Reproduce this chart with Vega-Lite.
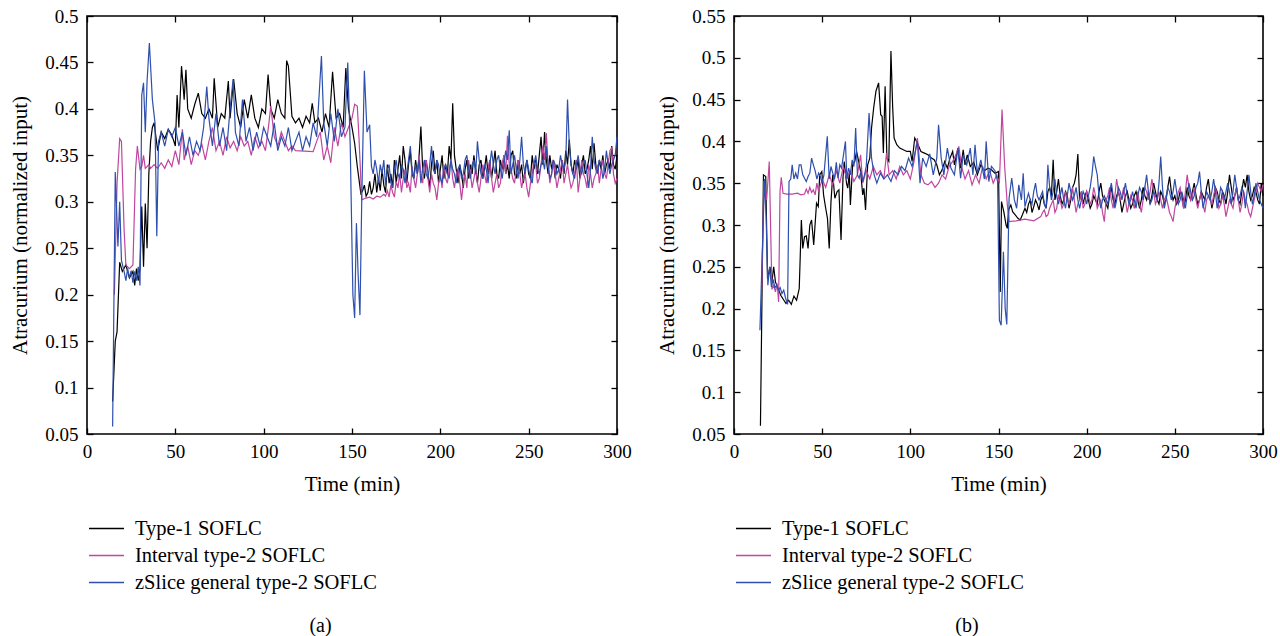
{
"$schema": "https://vega.github.io/schema/vega-lite/v6.json",
"padding": {"left": 8, "top": 6, "right": 4, "bottom": 0},
"background": "white",
"config": {
  "font": "Liberation Serif",
  "view": {"stroke": "#000", "strokeWidth": 1.6},
  "axis": {"labelFont": "Liberation Serif", "titleFont": "Liberation Serif", "labelFontSize": 19, "titleFontSize": 21, "titleFontWeight": "normal", "labelColor": "#000", "titleColor": "#000", "tickColor": "#000", "tickWidth": 1.3, "domain": false, "grid": false},
  "legend": {"labelFont": "Liberation Serif", "labelFontSize": 20.5, "labelColor": "#000", "labelLimit": 500},
  "title": {"font": "Liberation Serif", "fontSize": 20, "fontWeight": "normal", "color": "#000"}
},
"datasets": {
"a": [
{"t":14.5,"c":"T1","v":0.085},{"t":16,"c":"T1","v":0.15},{"t":17,"c":"T1","v":0.16},{"t":18.5,"c":"T1","v":0.235},{"t":20,"c":"T1","v":0.225},{"t":22,"c":"T1","v":0.232},{"t":24,"c":"T1","v":0.218},{"t":26,"c":"T1","v":0.225},{"t":27,"c":"T1","v":0.21},{"t":28,"c":"T1","v":0.228},{"t":29,"c":"T1","v":0.215},{"t":30,"c":"T1","v":0.228},{"t":31,"c":"T1","v":0.295},{"t":32,"c":"T1","v":0.23},{"t":33,"c":"T1","v":0.298},{"t":34,"c":"T1","v":0.25},{"t":35,"c":"T1","v":0.33},{"t":36,"c":"T1","v":0.365},{"t":37,"c":"T1","v":0.38},{"t":38,"c":"T1","v":0.385},{"t":40,"c":"T1","v":0.355},{"t":42,"c":"T1","v":0.375},{"t":44,"c":"T1","v":0.368},{"t":46,"c":"T1","v":0.378},{"t":48,"c":"T1","v":0.372},{"t":50,"c":"T1","v":0.36},{"t":51,"c":"T1","v":0.415},{"t":52,"c":"T1","v":0.38},{"t":53.5,"c":"T1","v":0.446},{"t":55,"c":"T1","v":0.41},{"t":56,"c":"T1","v":0.442},{"t":57,"c":"T1","v":0.4},{"t":59,"c":"T1","v":0.39},{"t":61,"c":"T1","v":0.405},{"t":63,"c":"T1","v":0.417},{"t":65,"c":"T1","v":0.395},{"t":67,"c":"T1","v":0.39},{"t":69,"c":"T1","v":0.4},{"t":71,"c":"T1","v":0.39},{"t":72,"c":"T1","v":0.433},{"t":74,"c":"T1","v":0.38},{"t":76,"c":"T1","v":0.395},{"t":78,"c":"T1","v":0.39},{"t":80,"c":"T1","v":0.43},{"t":81,"c":"T1","v":0.39},{"t":83,"c":"T1","v":0.432},{"t":85,"c":"T1","v":0.395},{"t":87,"c":"T1","v":0.38},{"t":89,"c":"T1","v":0.41},{"t":91,"c":"T1","v":0.39},{"t":93,"c":"T1","v":0.415},{"t":95,"c":"T1","v":0.39},{"t":97,"c":"T1","v":0.38},{"t":99,"c":"T1","v":0.4},{"t":101,"c":"T1","v":0.395},{"t":102.5,"c":"T1","v":0.437},{"t":104,"c":"T1","v":0.4},{"t":106,"c":"T1","v":0.39},{"t":108,"c":"T1","v":0.41},{"t":110,"c":"T1","v":0.395},{"t":112,"c":"T1","v":0.39},{"t":113,"c":"T1","v":0.452},{"t":114,"c":"T1","v":0.446},{"t":116,"c":"T1","v":0.392},{"t":118,"c":"T1","v":0.385},{"t":120,"c":"T1","v":0.39},{"t":122,"c":"T1","v":0.38},{"t":124,"c":"T1","v":0.392},{"t":126,"c":"T1","v":0.385},{"t":127.5,"c":"T1","v":0.406},{"t":129,"c":"T1","v":0.385},{"t":131,"c":"T1","v":0.39},{"t":133,"c":"T1","v":0.375},{"t":135,"c":"T1","v":0.395},{"t":137,"c":"T1","v":0.38},{"t":139,"c":"T1","v":0.44},{"t":141,"c":"T1","v":0.39},{"t":143,"c":"T1","v":0.395},{"t":145,"c":"T1","v":0.38},{"t":146.5,"c":"T1","v":0.444},{"t":148,"c":"T1","v":0.4},{"t":150,"c":"T1","v":0.38},{"t":151.5,"c":"T1","v":0.363},{"t":153,"c":"T1","v":0.338},{"t":155,"c":"T1","v":0.309},
{"t":156,"c":"T1","v":0.312},{"t":157,"c":"T1","v":0.318},{"t":158,"c":"T1","v":0.306},{"t":159,"c":"T1","v":0.31},{"t":160,"c":"T1","v":0.322},{"t":161,"c":"T1","v":0.308},{"t":162,"c":"T1","v":0.315},{"t":163,"c":"T1","v":0.33},{"t":164,"c":"T1","v":0.31},{"t":165,"c":"T1","v":0.325},{"t":166,"c":"T1","v":0.312},{"t":167,"c":"T1","v":0.335},{"t":168,"c":"T1","v":0.318},{"t":169,"c":"T1","v":0.31},{"t":170,"c":"T1","v":0.34},{"t":171,"c":"T1","v":0.32},{"t":172,"c":"T1","v":0.33},{"t":173,"c":"T1","v":0.315},{"t":174,"c":"T1","v":0.345},{"t":175,"c":"T1","v":0.32},{"t":176,"c":"T1","v":0.335},{"t":177,"c":"T1","v":0.35},{"t":178,"c":"T1","v":0.325},{"t":179,"c":"T1","v":0.36},{"t":180,"c":"T1","v":0.345},{"t":181,"c":"T1","v":0.32},{"t":182,"c":"T1","v":0.34},{"t":183,"c":"T1","v":0.355},{"t":184,"c":"T1","v":0.33},{"t":185,"c":"T1","v":0.325},{"t":186,"c":"T1","v":0.345},{"t":187,"c":"T1","v":0.33},{"t":188,"c":"T1","v":0.35},{"t":189,"c":"T1","v":0.381},{"t":190,"c":"T1","v":0.335},{"t":191,"c":"T1","v":0.325},{"t":192,"c":"T1","v":0.345},{"t":193,"c":"T1","v":0.33},{"t":194,"c":"T1","v":0.315},{"t":195,"c":"T1","v":0.34},{"t":196,"c":"T1","v":0.355},{"t":197,"c":"T1","v":0.33},{"t":198,"c":"T1","v":0.345},{"t":199,"c":"T1","v":0.32},{"t":200,"c":"T1","v":0.335},{"t":201,"c":"T1","v":0.35},{"t":202,"c":"T1","v":0.325},{"t":203,"c":"T1","v":0.34},{"t":204,"c":"T1","v":0.33},{"t":205,"c":"T1","v":0.36},{"t":206,"c":"T1","v":0.345},{"t":207,"c":"T1","v":0.406},{"t":208,"c":"T1","v":0.35},{"t":209,"c":"T1","v":0.335},{"t":210,"c":"T1","v":0.32},{"t":211,"c":"T1","v":0.34},{"t":212,"c":"T1","v":0.33},{"t":213,"c":"T1","v":0.315},{"t":214,"c":"T1","v":0.335},{"t":215,"c":"T1","v":0.345},{"t":216,"c":"T1","v":0.325},{"t":217,"c":"T1","v":0.34},{"t":218,"c":"T1","v":0.33},{"t":219,"c":"T1","v":0.35},{"t":220,"c":"T1","v":0.335},{"t":221,"c":"T1","v":0.32},{"t":222,"c":"T1","v":0.34},{"t":223,"c":"T1","v":0.345},{"t":224,"c":"T1","v":0.325},{"t":225,"c":"T1","v":0.335},{"t":226,"c":"T1","v":0.35},{"t":227,"c":"T1","v":0.33},{"t":228,"c":"T1","v":0.345},{"t":229,"c":"T1","v":0.325},{"t":230,"c":"T1","v":0.34},{"t":231,"c":"T1","v":0.355},{"t":232,"c":"T1","v":0.33},{"t":233,"c":"T1","v":0.325},{"t":234,"c":"T1","v":0.345},{"t":235,"c":"T1","v":0.335},{"t":236,"c":"T1","v":0.35},{"t":237,"c":"T1","v":0.33},{"t":238,"c":"T1","v":0.34},{"t":239,"c":"T1","v":0.325},{"t":240,"c":"T1","v":0.35},{"t":241,"c":"T1","v":0.355},{"t":242,"c":"T1","v":0.33},{"t":243,"c":"T1","v":0.325},{"t":244,"c":"T1","v":0.345},{"t":245,"c":"T1","v":0.33},{"t":246,"c":"T1","v":0.34},{"t":247,"c":"T1","v":0.32},{"t":248,"c":"T1","v":0.335},{"t":249,"c":"T1","v":0.345},{"t":250,"c":"T1","v":0.33},{"t":251,"c":"T1","v":0.325},{"t":252,"c":"T1","v":0.35},{"t":253,"c":"T1","v":0.335},{"t":254,"c":"T1","v":0.345},{"t":255,"c":"T1","v":0.33},{"t":256,"c":"T1","v":0.35},{"t":257,"c":"T1","v":0.37},{"t":258,"c":"T1","v":0.34},{"t":259,"c":"T1","v":0.375},{"t":260,"c":"T1","v":0.345},{"t":261,"c":"T1","v":0.33},{"t":262,"c":"T1","v":0.35},{"t":263,"c":"T1","v":0.335},{"t":264,"c":"T1","v":0.345},{"t":265,"c":"T1","v":0.325},{"t":266,"c":"T1","v":0.34},{"t":267,"c":"T1","v":0.335},{"t":268,"c":"T1","v":0.325},{"t":269,"c":"T1","v":0.345},{"t":270,"c":"T1","v":0.33},{"t":271,"c":"T1","v":0.355},{"t":272,"c":"T1","v":0.34},{"t":273,"c":"T1","v":0.367},{"t":274,"c":"T1","v":0.34},{"t":275,"c":"T1","v":0.33},{"t":276,"c":"T1","v":0.345},{"t":277,"c":"T1","v":0.335},{"t":278,"c":"T1","v":0.345},{"t":279,"c":"T1","v":0.325},{"t":280,"c":"T1","v":0.34},{"t":281,"c":"T1","v":0.35},{"t":282,"c":"T1","v":0.33},{"t":283,"c":"T1","v":0.335},{"t":284,"c":"T1","v":0.345},{"t":285,"c":"T1","v":0.36},{"t":286,"c":"T1","v":0.335},{"t":287,"c":"T1","v":0.363},{"t":288,"c":"T1","v":0.34},{"t":289,"c":"T1","v":0.33},{"t":290,"c":"T1","v":0.345},{"t":291,"c":"T1","v":0.335},{"t":292,"c":"T1","v":0.35},{"t":293,"c":"T1","v":0.33},{"t":294,"c":"T1","v":0.34},{"t":295,"c":"T1","v":0.345},{"t":296,"c":"T1","v":0.335},{"t":297,"c":"T1","v":0.36},{"t":298,"c":"T1","v":0.34},{"t":299,"c":"T1","v":0.335},{"t":300,"c":"T1","v":0.35},
{"t":15.5,"c":"IT2","v":0.2},{"t":17,"c":"IT2","v":0.32},{"t":18.5,"c":"IT2","v":0.368},{"t":19.5,"c":"IT2","v":0.365},{"t":21,"c":"IT2","v":0.27},{"t":22,"c":"IT2","v":0.232},{"t":24,"c":"IT2","v":0.228},{"t":26,"c":"IT2","v":0.232},{"t":27.5,"c":"IT2","v":0.335},{"t":28.5,"c":"IT2","v":0.36},{"t":30,"c":"IT2","v":0.335},{"t":31,"c":"IT2","v":0.338},{"t":32,"c":"IT2","v":0.35},{"t":33,"c":"IT2","v":0.336},{"t":35,"c":"IT2","v":0.34},{"t":36,"c":"IT2","v":0.336},{"t":38,"c":"IT2","v":0.34},{"t":40,"c":"IT2","v":0.336},{"t":42,"c":"IT2","v":0.342},{"t":44,"c":"IT2","v":0.336},{"t":46,"c":"IT2","v":0.345},{"t":48,"c":"IT2","v":0.338},{"t":50,"c":"IT2","v":0.355},{"t":52,"c":"IT2","v":0.34},{"t":54,"c":"IT2","v":0.378},{"t":55,"c":"IT2","v":0.345},{"t":57,"c":"IT2","v":0.36},{"t":59,"c":"IT2","v":0.34},{"t":61,"c":"IT2","v":0.355},{"t":63,"c":"IT2","v":0.35},{"t":65,"c":"IT2","v":0.362},{"t":67,"c":"IT2","v":0.345},{"t":69,"c":"IT2","v":0.365},{"t":71,"c":"IT2","v":0.38},{"t":73,"c":"IT2","v":0.355},{"t":75,"c":"IT2","v":0.365},{"t":77,"c":"IT2","v":0.35},{"t":79,"c":"IT2","v":0.37},{"t":81,"c":"IT2","v":0.358},{"t":83,"c":"IT2","v":0.365},{"t":85,"c":"IT2","v":0.355},{"t":87,"c":"IT2","v":0.37},{"t":89,"c":"IT2","v":0.36},{"t":91,"c":"IT2","v":0.365},{"t":93,"c":"IT2","v":0.35},{"t":95,"c":"IT2","v":0.37},{"t":97,"c":"IT2","v":0.358},{"t":99,"c":"IT2","v":0.365},{"t":101,"c":"IT2","v":0.355},{"t":103,"c":"IT2","v":0.385},{"t":104,"c":"IT2","v":0.403},{"t":106,"c":"IT2","v":0.37},{"t":108,"c":"IT2","v":0.36},{"t":110,"c":"IT2","v":0.375},{"t":112,"c":"IT2","v":0.365},{"t":114,"c":"IT2","v":0.355},{"t":116,"c":"IT2","v":0.36},{"t":118,"c":"IT2","v":0.355},{"t":128,"c":"IT2","v":0.354},{"t":130,"c":"IT2","v":0.365},{"t":132,"c":"IT2","v":0.375},{"t":134,"c":"IT2","v":0.345},{"t":136,"c":"IT2","v":0.36},{"t":138,"c":"IT2","v":0.342},{"t":140,"c":"IT2","v":0.38},{"t":142,"c":"IT2","v":0.36},{"t":144,"c":"IT2","v":0.385},{"t":146,"c":"IT2","v":0.37},{"t":148,"c":"IT2","v":0.38},{"t":150,"c":"IT2","v":0.39},{"t":151.5,"c":"IT2","v":0.405},{"t":153,"c":"IT2","v":0.403},{"t":154,"c":"IT2","v":0.367},{"t":155.5,"c":"IT2","v":0.302},
{"t":158,"c":"IT2","v":0.304},{"t":160,"c":"IT2","v":0.305},{"t":162,"c":"IT2","v":0.303},{"t":164,"c":"IT2","v":0.306},{"t":166,"c":"IT2","v":0.305},{"t":168,"c":"IT2","v":0.308},{"t":169,"c":"IT2","v":0.306},{"t":170,"c":"IT2","v":0.312},{"t":171,"c":"IT2","v":0.305},{"t":172,"c":"IT2","v":0.318},{"t":173,"c":"IT2","v":0.31},{"t":174,"c":"IT2","v":0.305},{"t":175,"c":"IT2","v":0.322},{"t":176,"c":"IT2","v":0.315},{"t":177,"c":"IT2","v":0.33},{"t":178,"c":"IT2","v":0.31},{"t":179,"c":"IT2","v":0.325},{"t":180,"c":"IT2","v":0.335},{"t":181,"c":"IT2","v":0.315},{"t":182,"c":"IT2","v":0.32},{"t":183,"c":"IT2","v":0.31},{"t":184,"c":"IT2","v":0.338},{"t":185,"c":"IT2","v":0.325},{"t":186,"c":"IT2","v":0.315},{"t":187,"c":"IT2","v":0.33},{"t":188,"c":"IT2","v":0.35},{"t":189,"c":"IT2","v":0.33},{"t":190,"c":"IT2","v":0.32},{"t":191,"c":"IT2","v":0.34},{"t":192,"c":"IT2","v":0.345},{"t":193,"c":"IT2","v":0.325},{"t":194,"c":"IT2","v":0.31},{"t":195,"c":"IT2","v":0.33},{"t":196,"c":"IT2","v":0.32},{"t":197,"c":"IT2","v":0.315},{"t":198,"c":"IT2","v":0.302},{"t":199,"c":"IT2","v":0.32},{"t":200,"c":"IT2","v":0.33},{"t":201,"c":"IT2","v":0.315},{"t":202,"c":"IT2","v":0.34},{"t":203,"c":"IT2","v":0.325},{"t":204,"c":"IT2","v":0.32},{"t":205,"c":"IT2","v":0.335},{"t":206,"c":"IT2","v":0.345},{"t":207,"c":"IT2","v":0.325},{"t":208,"c":"IT2","v":0.315},{"t":209,"c":"IT2","v":0.33},{"t":210,"c":"IT2","v":0.335},{"t":211,"c":"IT2","v":0.32},{"t":212,"c":"IT2","v":0.302},{"t":213,"c":"IT2","v":0.32},{"t":214,"c":"IT2","v":0.33},{"t":215,"c":"IT2","v":0.315},{"t":216,"c":"IT2","v":0.345},{"t":217,"c":"IT2","v":0.33},{"t":218,"c":"IT2","v":0.315},{"t":219,"c":"IT2","v":0.325},{"t":220,"c":"IT2","v":0.335},{"t":221,"c":"IT2","v":0.32},{"t":222,"c":"IT2","v":0.31},{"t":223,"c":"IT2","v":0.325},{"t":224,"c":"IT2","v":0.34},{"t":225,"c":"IT2","v":0.33},{"t":226,"c":"IT2","v":0.32},{"t":227,"c":"IT2","v":0.335},{"t":228,"c":"IT2","v":0.345},{"t":229,"c":"IT2","v":0.325},{"t":230,"c":"IT2","v":0.31},{"t":231,"c":"IT2","v":0.32},{"t":232,"c":"IT2","v":0.33},{"t":233,"c":"IT2","v":0.315},{"t":234,"c":"IT2","v":0.32},{"t":235,"c":"IT2","v":0.34},{"t":236,"c":"IT2","v":0.35},{"t":237,"c":"IT2","v":0.33},{"t":238,"c":"IT2","v":0.371},{"t":239,"c":"IT2","v":0.34},{"t":240,"c":"IT2","v":0.335},{"t":241,"c":"IT2","v":0.325},{"t":242,"c":"IT2","v":0.32},{"t":243,"c":"IT2","v":0.335},{"t":244,"c":"IT2","v":0.345},{"t":245,"c":"IT2","v":0.33},{"t":246,"c":"IT2","v":0.315},{"t":247,"c":"IT2","v":0.325},{"t":248,"c":"IT2","v":0.33},{"t":249,"c":"IT2","v":0.315},{"t":250,"c":"IT2","v":0.305},{"t":251,"c":"IT2","v":0.32},{"t":252,"c":"IT2","v":0.33},{"t":253,"c":"IT2","v":0.345},{"t":254,"c":"IT2","v":0.34},{"t":255,"c":"IT2","v":0.32},{"t":256,"c":"IT2","v":0.325},{"t":257,"c":"IT2","v":0.34},{"t":258,"c":"IT2","v":0.36},{"t":259,"c":"IT2","v":0.345},{"t":260,"c":"IT2","v":0.374},{"t":261,"c":"IT2","v":0.34},{"t":262,"c":"IT2","v":0.32},{"t":263,"c":"IT2","v":0.33},{"t":264,"c":"IT2","v":0.345},{"t":265,"c":"IT2","v":0.33},{"t":266,"c":"IT2","v":0.315},{"t":267,"c":"IT2","v":0.325},{"t":268,"c":"IT2","v":0.335},{"t":269,"c":"IT2","v":0.345},{"t":270,"c":"IT2","v":0.32},{"t":271,"c":"IT2","v":0.33},{"t":272,"c":"IT2","v":0.34},{"t":273,"c":"IT2","v":0.325},{"t":274,"c":"IT2","v":0.315},{"t":275,"c":"IT2","v":0.32},{"t":276,"c":"IT2","v":0.33},{"t":277,"c":"IT2","v":0.345},{"t":278,"c":"IT2","v":0.31},{"t":279,"c":"IT2","v":0.325},{"t":280,"c":"IT2","v":0.345},{"t":281,"c":"IT2","v":0.33},{"t":282,"c":"IT2","v":0.325},{"t":283,"c":"IT2","v":0.315},{"t":284,"c":"IT2","v":0.34},{"t":285,"c":"IT2","v":0.33},{"t":286,"c":"IT2","v":0.315},{"t":287,"c":"IT2","v":0.325},{"t":288,"c":"IT2","v":0.33},{"t":289,"c":"IT2","v":0.34},{"t":290,"c":"IT2","v":0.32},{"t":291,"c":"IT2","v":0.335},{"t":292,"c":"IT2","v":0.345},{"t":293,"c":"IT2","v":0.33},{"t":294,"c":"IT2","v":0.325},{"t":295,"c":"IT2","v":0.34},{"t":296,"c":"IT2","v":0.355},{"t":297,"c":"IT2","v":0.358},{"t":298,"c":"IT2","v":0.33},{"t":299,"c":"IT2","v":0.32},{"t":300,"c":"IT2","v":0.325},
{"t":14.5,"c":"GT2","v":0.058},{"t":16,"c":"GT2","v":0.332},{"t":17.5,"c":"GT2","v":0.252},{"t":18.5,"c":"GT2","v":0.3},{"t":19.5,"c":"GT2","v":0.237},{"t":21,"c":"GT2","v":0.225},{"t":22,"c":"GT2","v":0.215},{"t":23,"c":"GT2","v":0.228},{"t":24,"c":"GT2","v":0.218},{"t":25,"c":"GT2","v":0.226},{"t":26,"c":"GT2","v":0.213},{"t":27,"c":"GT2","v":0.225},{"t":28,"c":"GT2","v":0.215},{"t":29,"c":"GT2","v":0.23},{"t":30,"c":"GT2","v":0.21},{"t":31,"c":"GT2","v":0.415},{"t":32,"c":"GT2","v":0.428},{"t":33,"c":"GT2","v":0.375},{"t":34,"c":"GT2","v":0.43},{"t":35.3,"c":"GT2","v":0.471},{"t":37,"c":"GT2","v":0.41},{"t":38.5,"c":"GT2","v":0.385},{"t":39.5,"c":"GT2","v":0.263},{"t":40.5,"c":"GT2","v":0.365},{"t":42,"c":"GT2","v":0.375},{"t":44,"c":"GT2","v":0.36},{"t":46,"c":"GT2","v":0.378},{"t":48,"c":"GT2","v":0.37},{"t":50,"c":"GT2","v":0.38},{"t":52,"c":"GT2","v":0.36},{"t":54,"c":"GT2","v":0.375},{"t":56,"c":"GT2","v":0.35},{"t":58,"c":"GT2","v":0.37},{"t":60,"c":"GT2","v":0.35},{"t":62,"c":"GT2","v":0.365},{"t":64,"c":"GT2","v":0.355},{"t":66,"c":"GT2","v":0.38},{"t":67.8,"c":"GT2","v":0.424},{"t":69,"c":"GT2","v":0.39},{"t":71,"c":"GT2","v":0.36},{"t":73,"c":"GT2","v":0.395},{"t":75,"c":"GT2","v":0.36},{"t":77,"c":"GT2","v":0.38},{"t":79,"c":"GT2","v":0.355},{"t":81,"c":"GT2","v":0.4},{"t":82.7,"c":"GT2","v":0.432},{"t":84,"c":"GT2","v":0.375},{"t":86,"c":"GT2","v":0.36},{"t":88,"c":"GT2","v":0.41},{"t":90,"c":"GT2","v":0.365},{"t":92,"c":"GT2","v":0.38},{"t":94,"c":"GT2","v":0.355},{"t":96,"c":"GT2","v":0.375},{"t":98,"c":"GT2","v":0.36},{"t":100,"c":"GT2","v":0.38},{"t":102,"c":"GT2","v":0.37},{"t":104,"c":"GT2","v":0.36},{"t":106,"c":"GT2","v":0.385},{"t":108,"c":"GT2","v":0.355},{"t":110,"c":"GT2","v":0.37},{"t":112,"c":"GT2","v":0.36},{"t":114,"c":"GT2","v":0.38},{"t":116,"c":"GT2","v":0.355},{"t":118,"c":"GT2","v":0.365},{"t":120,"c":"GT2","v":0.375},{"t":122,"c":"GT2","v":0.355},{"t":124,"c":"GT2","v":0.37},{"t":126,"c":"GT2","v":0.36},{"t":128,"c":"GT2","v":0.385},{"t":130,"c":"GT2","v":0.37},{"t":132.7,"c":"GT2","v":0.457},{"t":134,"c":"GT2","v":0.385},{"t":136,"c":"GT2","v":0.36},{"t":138,"c":"GT2","v":0.395},{"t":140,"c":"GT2","v":0.365},{"t":142,"c":"GT2","v":0.4},{"t":144,"c":"GT2","v":0.37},{"t":146,"c":"GT2","v":0.38},{"t":147.6,"c":"GT2","v":0.45},{"t":149,"c":"GT2","v":0.36},{"t":150.5,"c":"GT2","v":0.2},{"t":151.5,"c":"GT2","v":0.175},{"t":152.5,"c":"GT2","v":0.277},{"t":153.5,"c":"GT2","v":0.22},{"t":154.5,"c":"GT2","v":0.178},{"t":155.5,"c":"GT2","v":0.3},{"t":157,"c":"GT2","v":0.441},{"t":158.5,"c":"GT2","v":0.375},{"t":160,"c":"GT2","v":0.383},
{"t":161,"c":"GT2","v":0.338},{"t":162,"c":"GT2","v":0.33},{"t":163,"c":"GT2","v":0.345},{"t":164,"c":"GT2","v":0.335},{"t":165,"c":"GT2","v":0.32},{"t":166,"c":"GT2","v":0.34},{"t":167,"c":"GT2","v":0.33},{"t":168,"c":"GT2","v":0.345},{"t":169,"c":"GT2","v":0.318},{"t":170,"c":"GT2","v":0.335},{"t":171,"c":"GT2","v":0.34},{"t":172,"c":"GT2","v":0.32},{"t":173,"c":"GT2","v":0.315},{"t":174,"c":"GT2","v":0.335},{"t":175,"c":"GT2","v":0.345},{"t":176,"c":"GT2","v":0.33},{"t":177,"c":"GT2","v":0.325},{"t":178,"c":"GT2","v":0.34},{"t":179,"c":"GT2","v":0.335},{"t":180,"c":"GT2","v":0.32},{"t":181,"c":"GT2","v":0.33},{"t":182,"c":"GT2","v":0.345},{"t":183,"c":"GT2","v":0.36},{"t":184,"c":"GT2","v":0.335},{"t":185,"c":"GT2","v":0.325},{"t":186,"c":"GT2","v":0.34},{"t":187,"c":"GT2","v":0.33},{"t":188,"c":"GT2","v":0.345},{"t":189,"c":"GT2","v":0.32},{"t":190,"c":"GT2","v":0.335},{"t":191,"c":"GT2","v":0.345},{"t":192,"c":"GT2","v":0.33},{"t":193,"c":"GT2","v":0.325},{"t":194,"c":"GT2","v":0.34},{"t":195,"c":"GT2","v":0.36},{"t":196,"c":"GT2","v":0.335},{"t":197,"c":"GT2","v":0.33},{"t":198,"c":"GT2","v":0.345},{"t":199,"c":"GT2","v":0.34},{"t":200,"c":"GT2","v":0.325},{"t":201,"c":"GT2","v":0.32},{"t":202,"c":"GT2","v":0.335},{"t":203,"c":"GT2","v":0.34},{"t":204,"c":"GT2","v":0.33},{"t":205,"c":"GT2","v":0.325},{"t":206,"c":"GT2","v":0.345},{"t":207,"c":"GT2","v":0.335},{"t":208,"c":"GT2","v":0.33},{"t":209,"c":"GT2","v":0.32},{"t":210,"c":"GT2","v":0.335},{"t":211,"c":"GT2","v":0.34},{"t":212,"c":"GT2","v":0.325},{"t":213,"c":"GT2","v":0.33},{"t":214,"c":"GT2","v":0.345},{"t":215,"c":"GT2","v":0.35},{"t":216,"c":"GT2","v":0.335},{"t":217,"c":"GT2","v":0.325},{"t":218,"c":"GT2","v":0.34},{"t":219,"c":"GT2","v":0.345},{"t":220,"c":"GT2","v":0.33},{"t":221,"c":"GT2","v":0.365},{"t":222,"c":"GT2","v":0.345},{"t":223,"c":"GT2","v":0.33},{"t":224,"c":"GT2","v":0.325},{"t":225,"c":"GT2","v":0.34},{"t":226,"c":"GT2","v":0.335},{"t":227,"c":"GT2","v":0.32},{"t":228,"c":"GT2","v":0.34},{"t":229,"c":"GT2","v":0.355},{"t":230,"c":"GT2","v":0.34},{"t":231,"c":"GT2","v":0.33},{"t":232,"c":"GT2","v":0.345},{"t":233,"c":"GT2","v":0.35},{"t":234,"c":"GT2","v":0.335},{"t":235,"c":"GT2","v":0.325},{"t":236,"c":"GT2","v":0.34},{"t":237,"c":"GT2","v":0.355},{"t":238,"c":"GT2","v":0.345},{"t":239,"c":"GT2","v":0.377},{"t":240,"c":"GT2","v":0.33},{"t":241,"c":"GT2","v":0.34},{"t":242,"c":"GT2","v":0.35},{"t":243,"c":"GT2","v":0.335},{"t":244,"c":"GT2","v":0.325},{"t":245,"c":"GT2","v":0.345},{"t":246,"c":"GT2","v":0.37},{"t":247,"c":"GT2","v":0.34},{"t":248,"c":"GT2","v":0.33},{"t":249,"c":"GT2","v":0.345},{"t":250,"c":"GT2","v":0.335},{"t":251,"c":"GT2","v":0.325},{"t":252,"c":"GT2","v":0.32},{"t":253,"c":"GT2","v":0.34},{"t":254,"c":"GT2","v":0.35},{"t":255,"c":"GT2","v":0.335},{"t":256,"c":"GT2","v":0.33},{"t":257,"c":"GT2","v":0.34},{"t":258,"c":"GT2","v":0.345},{"t":259,"c":"GT2","v":0.335},{"t":260,"c":"GT2","v":0.36},{"t":261,"c":"GT2","v":0.34},{"t":262,"c":"GT2","v":0.325},{"t":263,"c":"GT2","v":0.33},{"t":264,"c":"GT2","v":0.345},{"t":265,"c":"GT2","v":0.34},{"t":266,"c":"GT2","v":0.33},{"t":267,"c":"GT2","v":0.335},{"t":268,"c":"GT2","v":0.35},{"t":269,"c":"GT2","v":0.34},{"t":270,"c":"GT2","v":0.335},{"t":271,"c":"GT2","v":0.345},{"t":272,"c":"GT2","v":0.41},{"t":273,"c":"GT2","v":0.36},{"t":274,"c":"GT2","v":0.34},{"t":275,"c":"GT2","v":0.33},{"t":276,"c":"GT2","v":0.325},{"t":277,"c":"GT2","v":0.34},{"t":278,"c":"GT2","v":0.35},{"t":279,"c":"GT2","v":0.335},{"t":280,"c":"GT2","v":0.33},{"t":281,"c":"GT2","v":0.34},{"t":282,"c":"GT2","v":0.345},{"t":283,"c":"GT2","v":0.33},{"t":284,"c":"GT2","v":0.315},{"t":285,"c":"GT2","v":0.335},{"t":286,"c":"GT2","v":0.37},{"t":287,"c":"GT2","v":0.345},{"t":288,"c":"GT2","v":0.335},{"t":289,"c":"GT2","v":0.33},{"t":290,"c":"GT2","v":0.345},{"t":291,"c":"GT2","v":0.34},{"t":292,"c":"GT2","v":0.325},{"t":293,"c":"GT2","v":0.335},{"t":294,"c":"GT2","v":0.355},{"t":295,"c":"GT2","v":0.34},{"t":296,"c":"GT2","v":0.33},{"t":297,"c":"GT2","v":0.34},{"t":298,"c":"GT2","v":0.345},{"t":299,"c":"GT2","v":0.35},{"t":300,"c":"GT2","v":0.37}
],
"b": [
{"t":15,"c":"T1","v":0.06},{"t":16.7,"c":"T1","v":0.36},{"t":18,"c":"T1","v":0.358},{"t":19,"c":"T1","v":0.236},{"t":20.4,"c":"T1","v":0.25},{"t":21.5,"c":"T1","v":0.232},{"t":22.5,"c":"T1","v":0.25},{"t":23.5,"c":"T1","v":0.232},{"t":25,"c":"T1","v":0.224},{"t":26.5,"c":"T1","v":0.216},{"t":28.3,"c":"T1","v":0.21},{"t":29.5,"c":"T1","v":0.206},{"t":31,"c":"T1","v":0.21},{"t":32.5,"c":"T1","v":0.205},{"t":34,"c":"T1","v":0.215},{"t":35.5,"c":"T1","v":0.21},{"t":37,"c":"T1","v":0.224},{"t":38.2,"c":"T1","v":0.306},{"t":39,"c":"T1","v":0.272},{"t":40,"c":"T1","v":0.286},{"t":41,"c":"T1","v":0.287},{"t":42,"c":"T1","v":0.272},{"t":43,"c":"T1","v":0.3},{"t":44,"c":"T1","v":0.306},{"t":45.2,"c":"T1","v":0.276},{"t":46.8,"c":"T1","v":0.326},{"t":47.8,"c":"T1","v":0.322},{"t":48.6,"c":"T1","v":0.36},{"t":49.8,"c":"T1","v":0.364},{"t":50.8,"c":"T1","v":0.336},{"t":52,"c":"T1","v":0.32},{"t":53,"c":"T1","v":0.308},{"t":54,"c":"T1","v":0.272},{"t":55,"c":"T1","v":0.328},{"t":56,"c":"T1","v":0.36},{"t":57.2,"c":"T1","v":0.332},{"t":58.5,"c":"T1","v":0.34},{"t":59.5,"c":"T1","v":0.342},{"t":60.7,"c":"T1","v":0.282},{"t":61.8,"c":"T1","v":0.356},{"t":62.5,"c":"T1","v":0.376},{"t":63.8,"c":"T1","v":0.35},{"t":64.5,"c":"T1","v":0.344},{"t":65.4,"c":"T1","v":0.362},{"t":66,"c":"T1","v":0.324},{"t":67.3,"c":"T1","v":0.372},{"t":68.5,"c":"T1","v":0.376},{"t":69.5,"c":"T1","v":0.388},{"t":70.7,"c":"T1","v":0.376},{"t":71.8,"c":"T1","v":0.364},{"t":73,"c":"T1","v":0.336},{"t":73.7,"c":"T1","v":0.344},{"t":74.6,"c":"T1","v":0.318},{"t":75.8,"c":"T1","v":0.372},{"t":77,"c":"T1","v":0.38},{"t":78,"c":"T1","v":0.416},{"t":79.2,"c":"T1","v":0.44},{"t":80.5,"c":"T1","v":0.46},{"t":82,"c":"T1","v":0.47},{"t":83.2,"c":"T1","v":0.432},{"t":84,"c":"T1","v":0.43},{"t":84.7,"c":"T1","v":0.386},{"t":85.7,"c":"T1","v":0.466},{"t":86.7,"c":"T1","v":0.38},{"t":87.8,"c":"T1","v":0.376},{"t":89,"c":"T1","v":0.508},{"t":90,"c":"T1","v":0.44},{"t":90.8,"c":"T1","v":0.404},{"t":92.3,"c":"T1","v":0.396},{"t":94,"c":"T1","v":0.392},{"t":96,"c":"T1","v":0.39},{"t":98,"c":"T1","v":0.388},{"t":100,"c":"T1","v":0.388},{"t":101,"c":"T1","v":0.376},{"t":102.5,"c":"T1","v":0.404},{"t":104,"c":"T1","v":0.398},{"t":106,"c":"T1","v":0.388},{"t":108,"c":"T1","v":0.386},{"t":110,"c":"T1","v":0.384},{"t":112,"c":"T1","v":0.38},{"t":113.5,"c":"T1","v":0.378},{"t":115,"c":"T1","v":0.372},{"t":116.5,"c":"T1","v":0.36},{"t":118,"c":"T1","v":0.366},{"t":119.5,"c":"T1","v":0.376},{"t":121,"c":"T1","v":0.368},{"t":122.5,"c":"T1","v":0.38},{"t":124,"c":"T1","v":0.388},{"t":125,"c":"T1","v":0.372},{"t":127,"c":"T1","v":0.392},{"t":128.5,"c":"T1","v":0.368},{"t":130,"c":"T1","v":0.39},{"t":131,"c":"T1","v":0.372},{"t":132.3,"c":"T1","v":0.384},{"t":134,"c":"T1","v":0.37},{"t":136,"c":"T1","v":0.375},{"t":138,"c":"T1","v":0.36},{"t":140,"c":"T1","v":0.372},{"t":142,"c":"T1","v":0.365},{"t":144,"c":"T1","v":0.368},{"t":146,"c":"T1","v":0.366},{"t":148,"c":"T1","v":0.362},{"t":150,"c":"T1","v":0.364},{"t":151,"c":"T1","v":0.22},{"t":151.7,"c":"T1","v":0.328},{"t":153,"c":"T1","v":0.316},{"t":154.3,"c":"T1","v":0.3},{"t":155,"c":"T1","v":0.296},{"t":155.7,"c":"T1","v":0.318},{"t":157,"c":"T1","v":0.324},{"t":158,"c":"T1","v":0.316},{"t":159.5,"c":"T1","v":0.312},{"t":161,"c":"T1","v":0.308},{"t":162.3,"c":"T1","v":0.306},{"t":163.5,"c":"T1","v":0.312},
{"t":165,"c":"T1","v":0.32},{"t":166,"c":"T1","v":0.315},{"t":167,"c":"T1","v":0.325},{"t":168,"c":"T1","v":0.33},{"t":169,"c":"T1","v":0.315},{"t":170,"c":"T1","v":0.322},{"t":171,"c":"T1","v":0.33},{"t":172,"c":"T1","v":0.325},{"t":173,"c":"T1","v":0.318},{"t":174,"c":"T1","v":0.33},{"t":175,"c":"T1","v":0.335},{"t":176,"c":"T1","v":0.325},{"t":177,"c":"T1","v":0.32},{"t":178,"c":"T1","v":0.34},{"t":179,"c":"T1","v":0.345},{"t":180,"c":"T1","v":0.335},{"t":181,"c":"T1","v":0.378},{"t":182,"c":"T1","v":0.33},{"t":183,"c":"T1","v":0.34},{"t":184,"c":"T1","v":0.355},{"t":185,"c":"T1","v":0.335},{"t":186,"c":"T1","v":0.325},{"t":187,"c":"T1","v":0.33},{"t":188,"c":"T1","v":0.34},{"t":189,"c":"T1","v":0.335},{"t":190,"c":"T1","v":0.32},{"t":191,"c":"T1","v":0.33},{"t":192,"c":"T1","v":0.345},{"t":193,"c":"T1","v":0.35},{"t":194,"c":"T1","v":0.36},{"t":195,"c":"T1","v":0.385},{"t":196,"c":"T1","v":0.33},{"t":197,"c":"T1","v":0.34},{"t":198,"c":"T1","v":0.325},{"t":199,"c":"T1","v":0.335},{"t":200,"c":"T1","v":0.34},{"t":201,"c":"T1","v":0.33},{"t":202,"c":"T1","v":0.32},{"t":203,"c":"T1","v":0.325},{"t":204,"c":"T1","v":0.335},{"t":205,"c":"T1","v":0.33},{"t":206,"c":"T1","v":0.325},{"t":207,"c":"T1","v":0.34},{"t":208,"c":"T1","v":0.35},{"t":209,"c":"T1","v":0.335},{"t":210,"c":"T1","v":0.33},{"t":211,"c":"T1","v":0.325},{"t":212,"c":"T1","v":0.32},{"t":213,"c":"T1","v":0.335},{"t":214,"c":"T1","v":0.345},{"t":215,"c":"T1","v":0.33},{"t":216,"c":"T1","v":0.325},{"t":217,"c":"T1","v":0.335},{"t":218,"c":"T1","v":0.34},{"t":219,"c":"T1","v":0.33},{"t":220,"c":"T1","v":0.315},{"t":221,"c":"T1","v":0.325},{"t":222,"c":"T1","v":0.335},{"t":223,"c":"T1","v":0.34},{"t":224,"c":"T1","v":0.33},{"t":225,"c":"T1","v":0.32},{"t":226,"c":"T1","v":0.325},{"t":227,"c":"T1","v":0.335},{"t":228,"c":"T1","v":0.34},{"t":229,"c":"T1","v":0.33},{"t":230,"c":"T1","v":0.32},{"t":231,"c":"T1","v":0.33},{"t":232,"c":"T1","v":0.345},{"t":233,"c":"T1","v":0.335},{"t":234,"c":"T1","v":0.33},{"t":235,"c":"T1","v":0.34},{"t":236,"c":"T1","v":0.325},{"t":237,"c":"T1","v":0.335},{"t":238,"c":"T1","v":0.35},{"t":239,"c":"T1","v":0.34},{"t":240,"c":"T1","v":0.33},{"t":241,"c":"T1","v":0.325},{"t":242,"c":"T1","v":0.34},{"t":243,"c":"T1","v":0.335},{"t":244,"c":"T1","v":0.325},{"t":245,"c":"T1","v":0.33},{"t":246,"c":"T1","v":0.345},{"t":247,"c":"T1","v":0.358},{"t":248,"c":"T1","v":0.34},{"t":249,"c":"T1","v":0.33},{"t":250,"c":"T1","v":0.335},{"t":251,"c":"T1","v":0.325},{"t":252,"c":"T1","v":0.33},{"t":253,"c":"T1","v":0.34},{"t":254,"c":"T1","v":0.335},{"t":255,"c":"T1","v":0.32},{"t":256,"c":"T1","v":0.33},{"t":257,"c":"T1","v":0.345},{"t":258,"c":"T1","v":0.335},{"t":259,"c":"T1","v":0.33},{"t":260,"c":"T1","v":0.34},{"t":261,"c":"T1","v":0.35},{"t":262,"c":"T1","v":0.335},{"t":263,"c":"T1","v":0.325},{"t":264,"c":"T1","v":0.33},{"t":265,"c":"T1","v":0.34},{"t":266,"c":"T1","v":0.335},{"t":267,"c":"T1","v":0.33},{"t":268,"c":"T1","v":0.345},{"t":269,"c":"T1","v":0.355},{"t":270,"c":"T1","v":0.335},{"t":271,"c":"T1","v":0.32},{"t":272,"c":"T1","v":0.33},{"t":273,"c":"T1","v":0.345},{"t":274,"c":"T1","v":0.34},{"t":275,"c":"T1","v":0.33},{"t":276,"c":"T1","v":0.325},{"t":277,"c":"T1","v":0.34},{"t":278,"c":"T1","v":0.335},{"t":279,"c":"T1","v":0.325},{"t":280,"c":"T1","v":0.34},{"t":281,"c":"T1","v":0.36},{"t":282,"c":"T1","v":0.345},{"t":283,"c":"T1","v":0.33},{"t":284,"c":"T1","v":0.335},{"t":285,"c":"T1","v":0.345},{"t":286,"c":"T1","v":0.33},{"t":287,"c":"T1","v":0.325},{"t":288,"c":"T1","v":0.34},{"t":289,"c":"T1","v":0.355},{"t":290,"c":"T1","v":0.345},{"t":291,"c":"T1","v":0.36},{"t":292,"c":"T1","v":0.34},{"t":293,"c":"T1","v":0.33},{"t":294,"c":"T1","v":0.335},{"t":295,"c":"T1","v":0.345},{"t":296,"c":"T1","v":0.34},{"t":297,"c":"T1","v":0.33},{"t":298,"c":"T1","v":0.325},{"t":299,"c":"T1","v":0.35},{"t":300,"c":"T1","v":0.335},
{"t":15.7,"c":"IT2","v":0.223},{"t":17,"c":"IT2","v":0.353},{"t":18.5,"c":"IT2","v":0.33},{"t":20,"c":"IT2","v":0.376},{"t":21.5,"c":"IT2","v":0.223},{"t":22.5,"c":"IT2","v":0.228},{"t":23.5,"c":"IT2","v":0.22},{"t":24.5,"c":"IT2","v":0.23},{"t":25.3,"c":"IT2","v":0.208},{"t":26.1,"c":"IT2","v":0.34},{"t":26.8,"c":"IT2","v":0.357},{"t":27.8,"c":"IT2","v":0.338},{"t":30,"c":"IT2","v":0.337},{"t":33,"c":"IT2","v":0.337},{"t":36,"c":"IT2","v":0.338},{"t":38,"c":"IT2","v":0.336},{"t":40,"c":"IT2","v":0.337},{"t":41,"c":"IT2","v":0.343},{"t":42,"c":"IT2","v":0.338},{"t":43,"c":"IT2","v":0.345},{"t":44,"c":"IT2","v":0.339},{"t":45,"c":"IT2","v":0.342},{"t":46,"c":"IT2","v":0.336},{"t":47,"c":"IT2","v":0.35},{"t":48,"c":"IT2","v":0.34},{"t":50,"c":"IT2","v":0.355},{"t":52,"c":"IT2","v":0.345},{"t":54,"c":"IT2","v":0.36},{"t":56,"c":"IT2","v":0.348},{"t":58,"c":"IT2","v":0.365},{"t":60,"c":"IT2","v":0.35},{"t":62,"c":"IT2","v":0.37},{"t":64,"c":"IT2","v":0.355},{"t":66,"c":"IT2","v":0.365},{"t":68,"c":"IT2","v":0.352},{"t":70,"c":"IT2","v":0.36},{"t":71.8,"c":"IT2","v":0.384},{"t":73,"c":"IT2","v":0.35},{"t":75,"c":"IT2","v":0.365},{"t":77,"c":"IT2","v":0.355},{"t":79,"c":"IT2","v":0.37},{"t":81,"c":"IT2","v":0.36},{"t":83,"c":"IT2","v":0.365},{"t":85,"c":"IT2","v":0.355},{"t":86.5,"c":"IT2","v":0.386},{"t":88,"c":"IT2","v":0.36},{"t":90,"c":"IT2","v":0.365},{"t":92,"c":"IT2","v":0.355},{"t":94,"c":"IT2","v":0.37},{"t":96,"c":"IT2","v":0.36},{"t":98,"c":"IT2","v":0.365},{"t":100,"c":"IT2","v":0.355},{"t":102,"c":"IT2","v":0.375},{"t":104,"c":"IT2","v":0.404},{"t":106,"c":"IT2","v":0.36},{"t":108,"c":"IT2","v":0.35},{"t":110,"c":"IT2","v":0.348},{"t":112,"c":"IT2","v":0.352},{"t":114,"c":"IT2","v":0.345},{"t":116,"c":"IT2","v":0.35},{"t":118,"c":"IT2","v":0.36},{"t":120,"c":"IT2","v":0.355},{"t":122,"c":"IT2","v":0.37},{"t":124,"c":"IT2","v":0.376},{"t":126,"c":"IT2","v":0.385},{"t":127.5,"c":"IT2","v":0.394},{"t":129,"c":"IT2","v":0.37},{"t":131,"c":"IT2","v":0.355},{"t":133,"c":"IT2","v":0.365},{"t":135,"c":"IT2","v":0.348},{"t":137,"c":"IT2","v":0.36},{"t":139,"c":"IT2","v":0.35},{"t":141,"c":"IT2","v":0.37},{"t":143,"c":"IT2","v":0.355},{"t":145,"c":"IT2","v":0.365},{"t":147,"c":"IT2","v":0.35},{"t":149,"c":"IT2","v":0.36},{"t":150.5,"c":"IT2","v":0.35},{"t":152,"c":"IT2","v":0.438},{"t":153.5,"c":"IT2","v":0.37},{"t":155,"c":"IT2","v":0.324},{"t":156,"c":"IT2","v":0.304},{"t":160,"c":"IT2","v":0.305},{"t":165,"c":"IT2","v":0.307},{"t":170,"c":"IT2","v":0.305},
{"t":174,"c":"IT2","v":0.31},{"t":175,"c":"IT2","v":0.315},{"t":176,"c":"IT2","v":0.318},{"t":177,"c":"IT2","v":0.31},{"t":178,"c":"IT2","v":0.312},{"t":179,"c":"IT2","v":0.32},{"t":180,"c":"IT2","v":0.325},{"t":181,"c":"IT2","v":0.33},{"t":182,"c":"IT2","v":0.315},{"t":183,"c":"IT2","v":0.32},{"t":184,"c":"IT2","v":0.335},{"t":185,"c":"IT2","v":0.33},{"t":186,"c":"IT2","v":0.32},{"t":187,"c":"IT2","v":0.325},{"t":188,"c":"IT2","v":0.34},{"t":189,"c":"IT2","v":0.33},{"t":190,"c":"IT2","v":0.325},{"t":191,"c":"IT2","v":0.335},{"t":192,"c":"IT2","v":0.345},{"t":193,"c":"IT2","v":0.33},{"t":194,"c":"IT2","v":0.315},{"t":195,"c":"IT2","v":0.325},{"t":196,"c":"IT2","v":0.33},{"t":197,"c":"IT2","v":0.34},{"t":198,"c":"IT2","v":0.32},{"t":199,"c":"IT2","v":0.325},{"t":200,"c":"IT2","v":0.34},{"t":201,"c":"IT2","v":0.335},{"t":202,"c":"IT2","v":0.325},{"t":203,"c":"IT2","v":0.33},{"t":204,"c":"IT2","v":0.345},{"t":205,"c":"IT2","v":0.335},{"t":206,"c":"IT2","v":0.32},{"t":207,"c":"IT2","v":0.325},{"t":208,"c":"IT2","v":0.33},{"t":209,"c":"IT2","v":0.315},{"t":210,"c":"IT2","v":0.304},{"t":211,"c":"IT2","v":0.33},{"t":212,"c":"IT2","v":0.335},{"t":213,"c":"IT2","v":0.345},{"t":214,"c":"IT2","v":0.33},{"t":215,"c":"IT2","v":0.32},{"t":216,"c":"IT2","v":0.335},{"t":217,"c":"IT2","v":0.355},{"t":218,"c":"IT2","v":0.34},{"t":219,"c":"IT2","v":0.33},{"t":220,"c":"IT2","v":0.335},{"t":221,"c":"IT2","v":0.345},{"t":222,"c":"IT2","v":0.33},{"t":223,"c":"IT2","v":0.315},{"t":224,"c":"IT2","v":0.325},{"t":225,"c":"IT2","v":0.335},{"t":226,"c":"IT2","v":0.33},{"t":227,"c":"IT2","v":0.32},{"t":228,"c":"IT2","v":0.33},{"t":229,"c":"IT2","v":0.34},{"t":230,"c":"IT2","v":0.325},{"t":231,"c":"IT2","v":0.315},{"t":232,"c":"IT2","v":0.33},{"t":233,"c":"IT2","v":0.345},{"t":234,"c":"IT2","v":0.34},{"t":235,"c":"IT2","v":0.33},{"t":236,"c":"IT2","v":0.34},{"t":237,"c":"IT2","v":0.355},{"t":238,"c":"IT2","v":0.34},{"t":239,"c":"IT2","v":0.325},{"t":240,"c":"IT2","v":0.33},{"t":241,"c":"IT2","v":0.34},{"t":242,"c":"IT2","v":0.33},{"t":243,"c":"IT2","v":0.32},{"t":244,"c":"IT2","v":0.33},{"t":245,"c":"IT2","v":0.335},{"t":246,"c":"IT2","v":0.325},{"t":247,"c":"IT2","v":0.315},{"t":248,"c":"IT2","v":0.31},{"t":249,"c":"IT2","v":0.304},{"t":250,"c":"IT2","v":0.32},{"t":251,"c":"IT2","v":0.33},{"t":252,"c":"IT2","v":0.34},{"t":253,"c":"IT2","v":0.345},{"t":254,"c":"IT2","v":0.33},{"t":255,"c":"IT2","v":0.32},{"t":256,"c":"IT2","v":0.34},{"t":257,"c":"IT2","v":0.36},{"t":258,"c":"IT2","v":0.345},{"t":259,"c":"IT2","v":0.33},{"t":260,"c":"IT2","v":0.335},{"t":261,"c":"IT2","v":0.345},{"t":262,"c":"IT2","v":0.33},{"t":263,"c":"IT2","v":0.32},{"t":264,"c":"IT2","v":0.33},{"t":265,"c":"IT2","v":0.34},{"t":266,"c":"IT2","v":0.325},{"t":267,"c":"IT2","v":0.315},{"t":268,"c":"IT2","v":0.33},{"t":269,"c":"IT2","v":0.335},{"t":270,"c":"IT2","v":0.33},{"t":271,"c":"IT2","v":0.325},{"t":272,"c":"IT2","v":0.335},{"t":273,"c":"IT2","v":0.345},{"t":274,"c":"IT2","v":0.335},{"t":275,"c":"IT2","v":0.32},{"t":276,"c":"IT2","v":0.325},{"t":277,"c":"IT2","v":0.335},{"t":278,"c":"IT2","v":0.325},{"t":279,"c":"IT2","v":0.31},{"t":280,"c":"IT2","v":0.32},{"t":281,"c":"IT2","v":0.33},{"t":282,"c":"IT2","v":0.325},{"t":283,"c":"IT2","v":0.32},{"t":284,"c":"IT2","v":0.335},{"t":285,"c":"IT2","v":0.345},{"t":286,"c":"IT2","v":0.33},{"t":287,"c":"IT2","v":0.315},{"t":288,"c":"IT2","v":0.325},{"t":289,"c":"IT2","v":0.34},{"t":290,"c":"IT2","v":0.33},{"t":291,"c":"IT2","v":0.325},{"t":292,"c":"IT2","v":0.315},{"t":293,"c":"IT2","v":0.31},{"t":294,"c":"IT2","v":0.32},{"t":295,"c":"IT2","v":0.33},{"t":296,"c":"IT2","v":0.34},{"t":297,"c":"IT2","v":0.35},{"t":298,"c":"IT2","v":0.345},{"t":299,"c":"IT2","v":0.34},{"t":300,"c":"IT2","v":0.348},
{"t":14.7,"c":"GT2","v":0.174},{"t":17.3,"c":"GT2","v":0.355},{"t":18.2,"c":"GT2","v":0.31},{"t":19.2,"c":"GT2","v":0.228},{"t":20.2,"c":"GT2","v":0.25},{"t":21.2,"c":"GT2","v":0.226},{"t":22.2,"c":"GT2","v":0.235},{"t":23.2,"c":"GT2","v":0.225},{"t":24.2,"c":"GT2","v":0.228},{"t":25.2,"c":"GT2","v":0.222},{"t":26.2,"c":"GT2","v":0.225},{"t":27.2,"c":"GT2","v":0.218},{"t":28.2,"c":"GT2","v":0.222},{"t":29.2,"c":"GT2","v":0.213},{"t":30.4,"c":"GT2","v":0.205},{"t":31.2,"c":"GT2","v":0.352},{"t":32.2,"c":"GT2","v":0.355},{"t":33,"c":"GT2","v":0.372},{"t":34,"c":"GT2","v":0.355},{"t":35,"c":"GT2","v":0.362},{"t":36,"c":"GT2","v":0.355},{"t":37,"c":"GT2","v":0.372},{"t":38,"c":"GT2","v":0.372},{"t":39,"c":"GT2","v":0.36},{"t":40,"c":"GT2","v":0.356},{"t":41,"c":"GT2","v":0.352},{"t":42,"c":"GT2","v":0.358},{"t":43,"c":"GT2","v":0.362},{"t":44,"c":"GT2","v":0.38},{"t":45,"c":"GT2","v":0.372},{"t":46,"c":"GT2","v":0.365},{"t":47,"c":"GT2","v":0.355},{"t":48,"c":"GT2","v":0.362},{"t":49,"c":"GT2","v":0.358},{"t":50,"c":"GT2","v":0.35},{"t":51,"c":"GT2","v":0.36},{"t":52.9,"c":"GT2","v":0.406},{"t":54,"c":"GT2","v":0.355},{"t":55,"c":"GT2","v":0.37},{"t":56,"c":"GT2","v":0.362},{"t":57,"c":"GT2","v":0.355},{"t":58,"c":"GT2","v":0.375},{"t":59,"c":"GT2","v":0.356},{"t":60,"c":"GT2","v":0.372},{"t":61,"c":"GT2","v":0.368},{"t":63.2,"c":"GT2","v":0.4},{"t":64,"c":"GT2","v":0.355},{"t":65,"c":"GT2","v":0.368},{"t":66,"c":"GT2","v":0.36},{"t":67,"c":"GT2","v":0.378},{"t":68,"c":"GT2","v":0.37},{"t":69,"c":"GT2","v":0.416},{"t":70,"c":"GT2","v":0.36},{"t":71,"c":"GT2","v":0.356},{"t":72,"c":"GT2","v":0.365},{"t":73,"c":"GT2","v":0.352},{"t":74,"c":"GT2","v":0.36},{"t":75,"c":"GT2","v":0.37},{"t":76.6,"c":"GT2","v":0.434},{"t":78,"c":"GT2","v":0.38},{"t":79.5,"c":"GT2","v":0.36},{"t":81,"c":"GT2","v":0.35},{"t":83,"c":"GT2","v":0.362},{"t":85,"c":"GT2","v":0.355},{"t":87,"c":"GT2","v":0.36},{"t":89,"c":"GT2","v":0.352},{"t":91,"c":"GT2","v":0.365},{"t":93,"c":"GT2","v":0.36},{"t":95,"c":"GT2","v":0.37},{"t":97,"c":"GT2","v":0.365},{"t":99,"c":"GT2","v":0.38},{"t":101,"c":"GT2","v":0.37},{"t":103,"c":"GT2","v":0.39},{"t":104,"c":"GT2","v":0.4},{"t":105.5,"c":"GT2","v":0.35},{"t":107,"c":"GT2","v":0.38},{"t":109,"c":"GT2","v":0.37},{"t":111,"c":"GT2","v":0.385},{"t":113,"c":"GT2","v":0.36},{"t":115,"c":"GT2","v":0.38},{"t":116,"c":"GT2","v":0.42},{"t":117.5,"c":"GT2","v":0.38},{"t":119,"c":"GT2","v":0.36},{"t":121,"c":"GT2","v":0.392},{"t":123,"c":"GT2","v":0.368},{"t":125,"c":"GT2","v":0.36},{"t":127,"c":"GT2","v":0.392},{"t":128.5,"c":"GT2","v":0.356},{"t":130,"c":"GT2","v":0.384},{"t":132,"c":"GT2","v":0.372},{"t":134,"c":"GT2","v":0.392},{"t":135.5,"c":"GT2","v":0.36},{"t":136.7,"c":"GT2","v":0.396},{"t":138,"c":"GT2","v":0.362},{"t":140,"c":"GT2","v":0.378},{"t":142,"c":"GT2","v":0.355},{"t":143,"c":"GT2","v":0.4},{"t":144.5,"c":"GT2","v":0.352},{"t":146,"c":"GT2","v":0.37},{"t":148,"c":"GT2","v":0.365},{"t":149.5,"c":"GT2","v":0.352},{"t":150.5,"c":"GT2","v":0.186},{"t":151.5,"c":"GT2","v":0.18},{"t":152.8,"c":"GT2","v":0.268},{"t":153.8,"c":"GT2","v":0.2},{"t":154.7,"c":"GT2","v":0.181},{"t":156,"c":"GT2","v":0.332},{"t":157.5,"c":"GT2","v":0.356},{"t":159,"c":"GT2","v":0.33},{"t":160.3,"c":"GT2","v":0.32},{"t":161.5,"c":"GT2","v":0.348},{"t":163,"c":"GT2","v":0.33},{"t":164,"c":"GT2","v":0.362},
{"t":165,"c":"GT2","v":0.322},{"t":166,"c":"GT2","v":0.33},{"t":167,"c":"GT2","v":0.338},{"t":168,"c":"GT2","v":0.33},{"t":169,"c":"GT2","v":0.325},{"t":170,"c":"GT2","v":0.34},{"t":171,"c":"GT2","v":0.35},{"t":172,"c":"GT2","v":0.335},{"t":173,"c":"GT2","v":0.33},{"t":174,"c":"GT2","v":0.335},{"t":175,"c":"GT2","v":0.34},{"t":176,"c":"GT2","v":0.325},{"t":177,"c":"GT2","v":0.32},{"t":178,"c":"GT2","v":0.372},{"t":179,"c":"GT2","v":0.345},{"t":180,"c":"GT2","v":0.33},{"t":181,"c":"GT2","v":0.34},{"t":182,"c":"GT2","v":0.355},{"t":183,"c":"GT2","v":0.335},{"t":184,"c":"GT2","v":0.325},{"t":185,"c":"GT2","v":0.335},{"t":186,"c":"GT2","v":0.345},{"t":187,"c":"GT2","v":0.33},{"t":188,"c":"GT2","v":0.32},{"t":189,"c":"GT2","v":0.335},{"t":190,"c":"GT2","v":0.35},{"t":191,"c":"GT2","v":0.34},{"t":192,"c":"GT2","v":0.33},{"t":193,"c":"GT2","v":0.335},{"t":194,"c":"GT2","v":0.345},{"t":195,"c":"GT2","v":0.33},{"t":196,"c":"GT2","v":0.32},{"t":197,"c":"GT2","v":0.33},{"t":198,"c":"GT2","v":0.34},{"t":199,"c":"GT2","v":0.335},{"t":200,"c":"GT2","v":0.325},{"t":201,"c":"GT2","v":0.335},{"t":202,"c":"GT2","v":0.345},{"t":203,"c":"GT2","v":0.36},{"t":204,"c":"GT2","v":0.382},{"t":205,"c":"GT2","v":0.37},{"t":206,"c":"GT2","v":0.36},{"t":207,"c":"GT2","v":0.335},{"t":208,"c":"GT2","v":0.32},{"t":209,"c":"GT2","v":0.33},{"t":210,"c":"GT2","v":0.335},{"t":211,"c":"GT2","v":0.33},{"t":212,"c":"GT2","v":0.325},{"t":213,"c":"GT2","v":0.34},{"t":214,"c":"GT2","v":0.35},{"t":215,"c":"GT2","v":0.335},{"t":216,"c":"GT2","v":0.32},{"t":217,"c":"GT2","v":0.33},{"t":218,"c":"GT2","v":0.345},{"t":219,"c":"GT2","v":0.34},{"t":220,"c":"GT2","v":0.33},{"t":221,"c":"GT2","v":0.34},{"t":222,"c":"GT2","v":0.35},{"t":223,"c":"GT2","v":0.335},{"t":224,"c":"GT2","v":0.325},{"t":225,"c":"GT2","v":0.33},{"t":226,"c":"GT2","v":0.34},{"t":227,"c":"GT2","v":0.33},{"t":228,"c":"GT2","v":0.32},{"t":229,"c":"GT2","v":0.335},{"t":230,"c":"GT2","v":0.345},{"t":231,"c":"GT2","v":0.34},{"t":232,"c":"GT2","v":0.33},{"t":233,"c":"GT2","v":0.345},{"t":234,"c":"GT2","v":0.36},{"t":235,"c":"GT2","v":0.34},{"t":236,"c":"GT2","v":0.325},{"t":237,"c":"GT2","v":0.33},{"t":238,"c":"GT2","v":0.34},{"t":239,"c":"GT2","v":0.335},{"t":240,"c":"GT2","v":0.33},{"t":241,"c":"GT2","v":0.35},{"t":242,"c":"GT2","v":0.382},{"t":243,"c":"GT2","v":0.345},{"t":244,"c":"GT2","v":0.32},{"t":245,"c":"GT2","v":0.33},{"t":246,"c":"GT2","v":0.345},{"t":247,"c":"GT2","v":0.34},{"t":248,"c":"GT2","v":0.33},{"t":249,"c":"GT2","v":0.34},{"t":250,"c":"GT2","v":0.355},{"t":251,"c":"GT2","v":0.34},{"t":252,"c":"GT2","v":0.325},{"t":253,"c":"GT2","v":0.33},{"t":254,"c":"GT2","v":0.34},{"t":255,"c":"GT2","v":0.33},{"t":256,"c":"GT2","v":0.32},{"t":257,"c":"GT2","v":0.335},{"t":258,"c":"GT2","v":0.35},{"t":259,"c":"GT2","v":0.34},{"t":260,"c":"GT2","v":0.33},{"t":261,"c":"GT2","v":0.335},{"t":262,"c":"GT2","v":0.345},{"t":263,"c":"GT2","v":0.35},{"t":264,"c":"GT2","v":0.364},{"t":265,"c":"GT2","v":0.34},{"t":266,"c":"GT2","v":0.32},{"t":267,"c":"GT2","v":0.33},{"t":268,"c":"GT2","v":0.34},{"t":269,"c":"GT2","v":0.335},{"t":270,"c":"GT2","v":0.33},{"t":271,"c":"GT2","v":0.34},{"t":272,"c":"GT2","v":0.355},{"t":273,"c":"GT2","v":0.34},{"t":274,"c":"GT2","v":0.32},{"t":275,"c":"GT2","v":0.33},{"t":276,"c":"GT2","v":0.345},{"t":277,"c":"GT2","v":0.34},{"t":278,"c":"GT2","v":0.33},{"t":279,"c":"GT2","v":0.34},{"t":280,"c":"GT2","v":0.35},{"t":281,"c":"GT2","v":0.34},{"t":282,"c":"GT2","v":0.325},{"t":283,"c":"GT2","v":0.34},{"t":284,"c":"GT2","v":0.36},{"t":285,"c":"GT2","v":0.345},{"t":286,"c":"GT2","v":0.33},{"t":287,"c":"GT2","v":0.335},{"t":288,"c":"GT2","v":0.345},{"t":289,"c":"GT2","v":0.34},{"t":290,"c":"GT2","v":0.32},{"t":291,"c":"GT2","v":0.34},{"t":292,"c":"GT2","v":0.36},{"t":293,"c":"GT2","v":0.34},{"t":294,"c":"GT2","v":0.325},{"t":295,"c":"GT2","v":0.335},{"t":296,"c":"GT2","v":0.35},{"t":297,"c":"GT2","v":0.34},{"t":298,"c":"GT2","v":0.33},{"t":299,"c":"GT2","v":0.325},{"t":300,"c":"GT2","v":0.32}
]
},
"spacing": 22,
"hconcat": [
{
  "width": 530, "height": 418,
  "data": {"name": "a"},
  "title": {"text": "(a)", "orient": "bottom", "anchor": "middle", "frame": "bounds", "offset": 20},
  "resolve": {"axis": {"x": "independent", "y": "independent"}},
  "layer": [
    {
      "mark": {"type": "line", "strokeWidth": 1.2},
      "encoding": {
        "x": {"field": "t", "type": "quantitative", "scale": {"domain": [0, 300], "nice": false}, "axis": {"title": "Time (min)", "values": [0,50,100,150,200,250,300], "tickSize": -6, "labelPadding": 14, "titlePadding": 12, "labelFlush": false, "labelFont": "Liberation Serif", "labelFontSize": 19, "titleFont": "Liberation Serif", "titleFontSize": 21}},
        "y": {"field": "v", "type": "quantitative", "scale": {"domain": [0.05, 0.5], "nice": false, "zero": false}, "axis": {"title": "Atracurium (normalized input)", "values": [0.05,0.1,0.15,0.2,0.25,0.3,0.35,0.4,0.45,0.5], "format": "~g", "tickSize": -6, "labelPadding": 15, "titlePadding": 14, "labelFlush": false, "labelFont": "Liberation Serif", "labelFontSize": 19, "titleFont": "Liberation Serif", "titleFontSize": 21}},
        "color": {"field": "c", "type": "nominal", "sort": ["T1","IT2","GT2"], "scale": {"domain": ["T1","IT2","GT2"], "range": ["#000000","#c0469f","#2e4fae"]},
          "legend": {"orient": "none", "legendX": 1, "legendY": 499, "title": null, "symbolType": "stroke", "symbolSize": 1225, "symbolStrokeWidth": 1.3, "labelOffset": 10, "rowPadding": 0, "clipHeight": 27, "labelLimit": 500, "labelFont": "Liberation Serif", "labelFontSize": 20.5, "labelExpr": "datum.label == 'T1' ? 'Type-1 SOFLC' : datum.label == 'IT2' ? 'Interval type-2 SOFLC' : 'zSlice general type-2 SOFLC'"}}
      }
    },
    {
      "mark": {"type": "line", "strokeOpacity": 0},
      "encoding": {
        "x": {"field": "t", "type": "quantitative", "axis": {"orient": "top", "title": null, "labels": false, "values": [0,50,100,150,200,250,300], "tickSize": -6}},
        "y": {"field": "v", "type": "quantitative", "axis": {"orient": "right", "title": null, "labels": false, "values": [0.05,0.1,0.15,0.2,0.25,0.3,0.35,0.4,0.45,0.5], "tickSize": -6}}
      }
    }
  ]
},
{
  "width": 529, "height": 418,
  "data": {"name": "b"},
  "title": {"text": "(b)", "orient": "bottom", "anchor": "middle", "frame": "bounds", "offset": 20},
  "resolve": {"axis": {"x": "independent", "y": "independent"}},
  "layer": [
    {
      "mark": {"type": "line", "strokeWidth": 1.2},
      "encoding": {
        "x": {"field": "t", "type": "quantitative", "scale": {"domain": [0, 300], "nice": false}, "axis": {"title": "Time (min)", "values": [0,50,100,150,200,250,300], "tickSize": -6, "labelPadding": 14, "titlePadding": 12, "labelFlush": false, "labelFont": "Liberation Serif", "labelFontSize": 19, "titleFont": "Liberation Serif", "titleFontSize": 21}},
        "y": {"field": "v", "type": "quantitative", "scale": {"domain": [0.05, 0.55], "nice": false, "zero": false}, "axis": {"title": "Atracurium (normalized input)", "values": [0.05,0.1,0.15,0.2,0.25,0.3,0.35,0.4,0.45,0.5,0.55], "format": "~g", "tickSize": -6, "labelPadding": 15, "titlePadding": 14, "labelFlush": false, "labelFont": "Liberation Serif", "labelFontSize": 19, "titleFont": "Liberation Serif", "titleFontSize": 21}},
        "color": {"field": "c", "type": "nominal", "sort": ["T1","IT2","GT2"], "scale": {"domain": ["T1","IT2","GT2"], "range": ["#000000","#c0469f","#2e4fae"]},
          "legend": {"orient": "none", "legendX": 1, "legendY": 499, "title": null, "symbolType": "stroke", "symbolSize": 1225, "symbolStrokeWidth": 1.3, "labelOffset": 10, "rowPadding": 0, "clipHeight": 27, "labelLimit": 500, "labelFont": "Liberation Serif", "labelFontSize": 20.5, "labelExpr": "datum.label == 'T1' ? 'Type-1 SOFLC' : datum.label == 'IT2' ? 'Interval type-2 SOFLC' : 'zSlice general type-2 SOFLC'"}}
      }
    },
    {
      "mark": {"type": "line", "strokeOpacity": 0},
      "encoding": {
        "x": {"field": "t", "type": "quantitative", "axis": {"orient": "top", "title": null, "labels": false, "values": [0,50,100,150,200,250,300], "tickSize": -6}},
        "y": {"field": "v", "type": "quantitative", "axis": {"orient": "right", "title": null, "labels": false, "values": [0.05,0.1,0.15,0.2,0.25,0.3,0.35,0.4,0.45,0.5,0.55], "tickSize": -6}}
      }
    }
  ]
}
],
"resolve": {"legend": {"color": "independent"}, "scale": {"color": "independent"}}
}
